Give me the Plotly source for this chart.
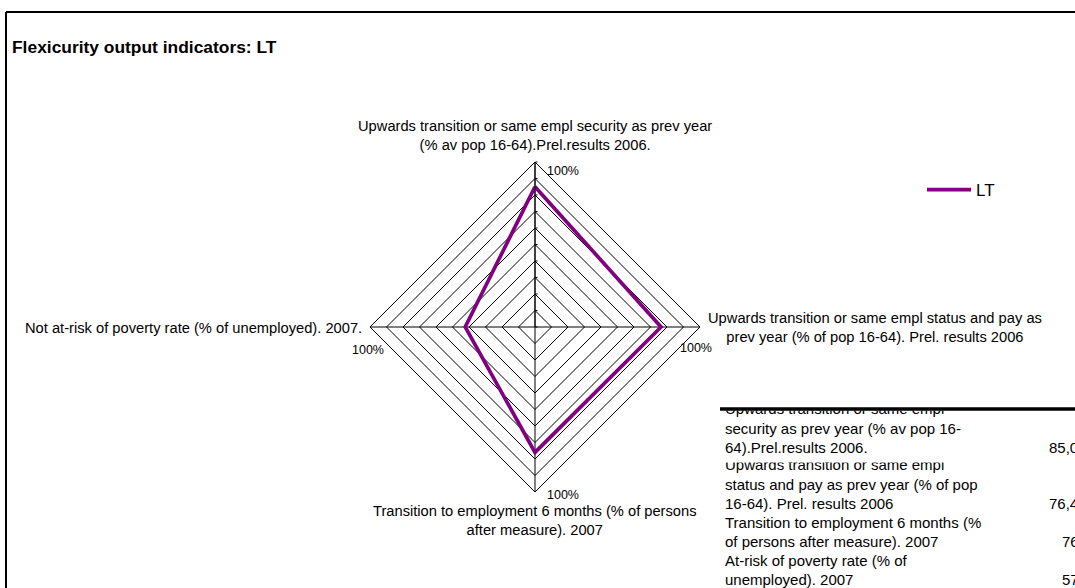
import plotly.graph_objects as go

# ---------------- data ----------------
axis_labels = [
    "Upwards transition or same empl security as prev year<br>(% av pop 16-64).Prel.results 2006.",
    "Upwards transition or same empl status and pay as<br>prev year (% of pop 16-64). Prel. results 2006",
    "Transition to employment 6 months (% of persons<br>after measure). 2007",
    "Not at-risk of poverty rate (% of unemployed). 2007.",
]
axis_keys = ["sec", "pay", "trans", "notrisk"]
lt_values = [85.0, 76.4, 76.0, 100 - 57.7]
series_name = "LT"

table_rows = [
    ["Upwards transition or same empl", "security as prev year (% av pop 16-", "64).Prel.results 2006."],
    ["Upwards transition or same empl", "status and pay as prev year (% of pop", "16-64). Prel. results 2006"],
    ["Transition to employment 6 months (%", "of persons after measure). 2007"],
    ["At-risk of poverty rate (% of", "unemployed). 2007"],
]
table_values = [85.0, 76.4, 76.0, 57.7]
title_text = "Flexicurity output indicators: LT"

# ---------------- layout helpers ----------------
W, H = 1075, 588
FONT = "Liberation Sans, Arial, sans-serif"
PURPLE = "#800080"

def px(x):
    return x / W

def py(y):
    return 1 - y / H

cx, cy, R = 535, 327, 165

fig = go.Figure()

fig.add_trace(go.Scatterpolar(
    r=lt_values + [lt_values[0]],
    theta=axis_keys + [axis_keys[0]],
    mode="lines",
    line=dict(color=PURPLE, width=3.7),
    name=series_name,
    hoverinfo="skip",
))

# ---------------- table (clipped text cells) ----------------
line_centers = [
    [410.5, 429.8, 449.5],
    [466.5, 486.0, 505.5],
    [524.5, 543.7],
    [562.0, 581.0],
]
value_x = [1049, 1049, 1062, 1062]

for i, rows in enumerate(table_rows):
    ax = "" if i == 0 else "2"
    xs = [725] * len(rows) + [value_x[i]]
    ys = line_centers[i] + [line_centers[i][-1]]
    txt = rows + [f"{table_values[i]:.1f}".replace(".", ",")]
    fig.add_trace(go.Scatter(
        x=xs, y=ys, text=txt, mode="text", textposition="middle right",
        textfont=dict(family=FONT, size=15, color="black"),
        cliponaxis=True, showlegend=False, hoverinfo="skip",
        xaxis="x" + ax, yaxis="y" + ax,
    ))

fig.update_layout(
    xaxis=dict(domain=[px(720), 1], range=[720, W], visible=False, fixedrange=True),
    yaxis=dict(domain=[py(462.5), py(410.5)], range=[462.5, 410.5], visible=False, anchor="x"),
    xaxis2=dict(domain=[px(720), 1], range=[720, W], visible=False, anchor="y2"),
    yaxis2=dict(domain=[0, py(462.5)], range=[H, 462.5], visible=False, anchor="x2"),
)

# ---------------- annotations ----------------
ann = []
ann.append(dict(text="<b>" + title_text + "</b>", x=px(10), y=py(47), xanchor="left", yanchor="middle",
                font=dict(family=FONT, size=17.4, color="black")))
lab_font = dict(family=FONT, size=14.7, color="black")
ann.append(dict(text=axis_labels[0], x=px(535), y=py(135), xanchor="center", yanchor="middle", font=lab_font))
ann.append(dict(text=axis_labels[1], x=px(875), y=py(327), xanchor="center", yanchor="middle", font=lab_font))
ann.append(dict(text=axis_labels[2], x=px(535), y=py(520.5), xanchor="center", yanchor="middle", font=lab_font))
ann.append(dict(text=axis_labels[3], x=px(364), y=py(328), xanchor="right", yanchor="middle", font=lab_font))
pct_font = dict(family=FONT, size=12.5, color="black")
for (x, y) in [(545, 170.5), (678, 348), (350, 350), (545, 495)]:
    ann.append(dict(text="100%", x=px(x), y=py(y), xanchor="left", yanchor="middle", font=pct_font))
for a in ann:
    a.update(xref="paper", yref="paper", showarrow=False, align="center")

shapes = [
    dict(type="line", xref="paper", yref="paper", x0=px(6), x1=1, y0=py(12), y1=py(12),
         line=dict(color="black", width=2)),
    dict(type="line", xref="paper", yref="paper", x0=px(6), x1=px(6), y0=py(12), y1=0,
         line=dict(color="black", width=2)),
    dict(type="line", xref="paper", yref="paper", x0=px(720), x1=1, y0=py(409), y1=py(409),
         line=dict(color="black", width=3.5)),
]

fig.update_layout(
    width=W, height=H,
    margin=dict(l=0, r=0, t=0, b=0),
    paper_bgcolor="white", plot_bgcolor="white",
    font=dict(family=FONT, color="black"),
    showlegend=True,
    legend=dict(x=px(922), y=py(190), xanchor="left", yanchor="middle", itemwidth=44,
                font=dict(family=FONT, size=17, color="black"), bgcolor="rgba(0,0,0,0)"),
    polar=dict(
        domain=dict(x=[px(cx - R), px(cx + R)], y=[py(cy + R), py(cy - R)]),
        gridshape="linear",
        bgcolor="white",
        radialaxis=dict(range=[0, 100], dtick=10, showticklabels=False, ticks="outside", ticklen=2,
                        tickcolor="black", gridcolor="black", gridwidth=1, showline=True,
                        linecolor="black", linewidth=1, angle=90),
        angularaxis=dict(rotation=90, direction="clockwise", showticklabels=False, ticks="",
                         gridcolor="black", gridwidth=1, showline=True, linecolor="black", linewidth=1,
                         type="category", categoryorder="array", categoryarray=axis_keys),
    ),
    annotations=ann,
    shapes=shapes,
)

fig.write_html("out.html", config={"displayModeBar": False},
               post_script="document.body.style.margin='0';")
